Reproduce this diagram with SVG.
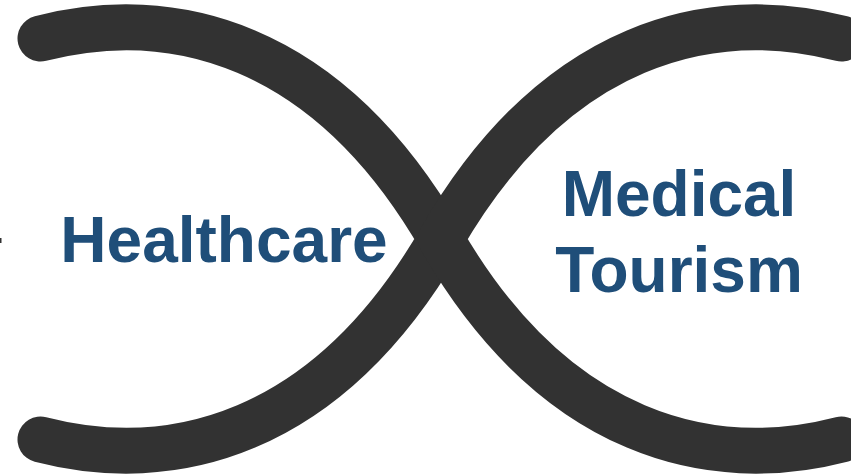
<svg xmlns="http://www.w3.org/2000/svg" width="851" height="475" viewBox="0 0 851 475">
<style>
.arc{fill:none;stroke:#323232;stroke-width:46;stroke-linecap:round;stroke-linejoin:round}
.lbl{font-family:"Liberation Sans",Arial,sans-serif;font-weight:bold;font-size:64px;fill:#1f4e79;text-anchor:middle}
</style>
<rect width="851" height="475" fill="#ffffff"/>
<g id="connectors">
<path id="arc-left" class="arc" d="M40.5,38.5 C170,5 326,40 441,239 C326,438 170,473 40.5,439.5"/>
<path id="arc-right" class="arc" d="M841.5,38.5 C712,5 556,40 441,239 C556,438 712,473 841.5,439.5"/>
</g>
<rect x="0" y="238" width="1.5" height="5" fill="#323232"/>
<g id="node-healthcare">
<text class="lbl" x="224" y="262">Healthcare</text>
</g>
<g id="node-medical-tourism">
<text class="lbl" x="679" y="216">Medical</text>
<text class="lbl" x="679" y="292">Tourism</text>
</g>
</svg>
